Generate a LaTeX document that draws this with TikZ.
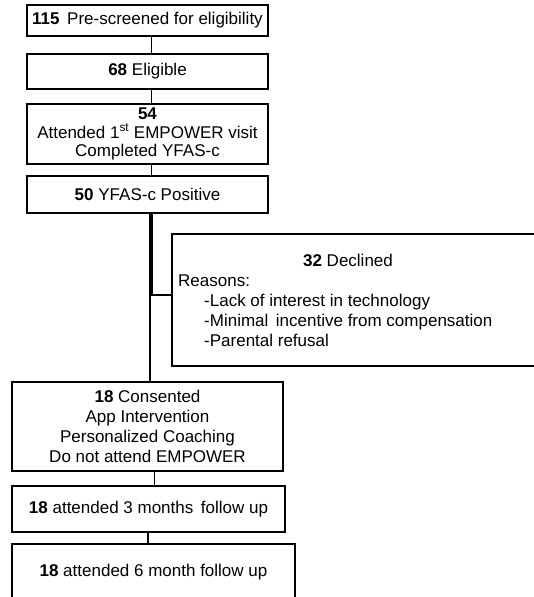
\documentclass[tikz,border=0pt]{standalone}
\usepackage{fontspec}
\setmainfont{Liberation Sans}
\usepackage{tikz}
\usetikzlibrary{positioning,calc}

\begin{document}
\begin{tikzpicture}[x=1pt,y=-1pt,
  every node/.style={font=\fontsize{17}{20}\selectfont},
  flowbox/.style={draw,line width=1.8pt,rectangle,inner sep=0pt,align=center},
  link/.style={line width=1.6pt}
]

\path[use as bounding box,clip] (0,0) rectangle (534,597);

% main column
\node[flowbox,minimum width=241pt,minimum height=31pt] (pre) at (147.5,20.5)
  {\textbf{115}\, Pre-screened for eligibility};
\node[flowbox,minimum width=241pt,minimum height=35pt] (elig) at (147.5,71.5)
  {\textbf{68} Eligible};
\node[flowbox,minimum width=241pt,minimum height=60pt] (visit) at (147.5,134)
  {\textbf{54}\\[-1.5pt] Attended 1\textsuperscript{st} EMPOWER visit\\[-1.5pt] Completed YFAS-c};
\node[flowbox,minimum width=241pt,minimum height=37pt] (pos) at (147.5,194.5)
  {\textbf{50} YFAS-c Positive};

% declined
\node[draw,line width=1.8pt,rectangle,minimum width=380pt,minimum height=132pt,
  anchor=north west] (decl) at (171,233) {};
\node (declhead) at (348,260) {\textbf{32} Declined};
\node[anchor=west,align=left,inner sep=0pt] (declwhy) at (178,311)
  {Reasons:\\
   \hspace*{26pt}-Lack of interest in technology\\
   \hspace*{26pt}-Minimal\, incentive from compensation\\
   \hspace*{26pt}-Parental refusal};

% consented and follow up
\node[flowbox,minimum width=271pt,minimum height=89pt] (cons) at (147.5,426.5)
  {\textbf{18} Consented\\ App Intervention\\ Personalized Coaching\\ Do not attend EMPOWER};
\node[flowbox,minimum width=273pt,minimum height=46pt] (three) at (148.5,509)
  {\textbf{18} attended 3 months\, follow up};
\node[flowbox,minimum width=283pt,minimum height=57pt] (six) at (153.5,572.5)
  {\textbf{18} attended 6 month follow up};

\coordinate (split) at (151,295);

\draw[link] ([xshift=4pt]pre.south) -- ([xshift=4pt]pre.south |- elig.north);
\draw[link] ([xshift=4pt]elig.south) -- ([xshift=4pt]elig.south |- visit.north);
\draw[link] ([xshift=4pt]visit.south) -- ([xshift=4pt]visit.south |- pos.north);
\draw[line width=4pt] (pos.south -| split) -- (split);
\draw[line width=2pt] ([xshift=-1pt]split) -- ([xshift=-1pt]split |- cons.north);
\draw[line width=2pt] (split) -- (split -| decl.west);
\draw[link] ([xshift=7pt]cons.south) -- ([xshift=7pt]cons.south |- three.north);
\draw[link] ([xshift=-0.5pt]three.south) -- ([xshift=-0.5pt]three.south |- six.north);

\end{tikzpicture}
\end{document}
